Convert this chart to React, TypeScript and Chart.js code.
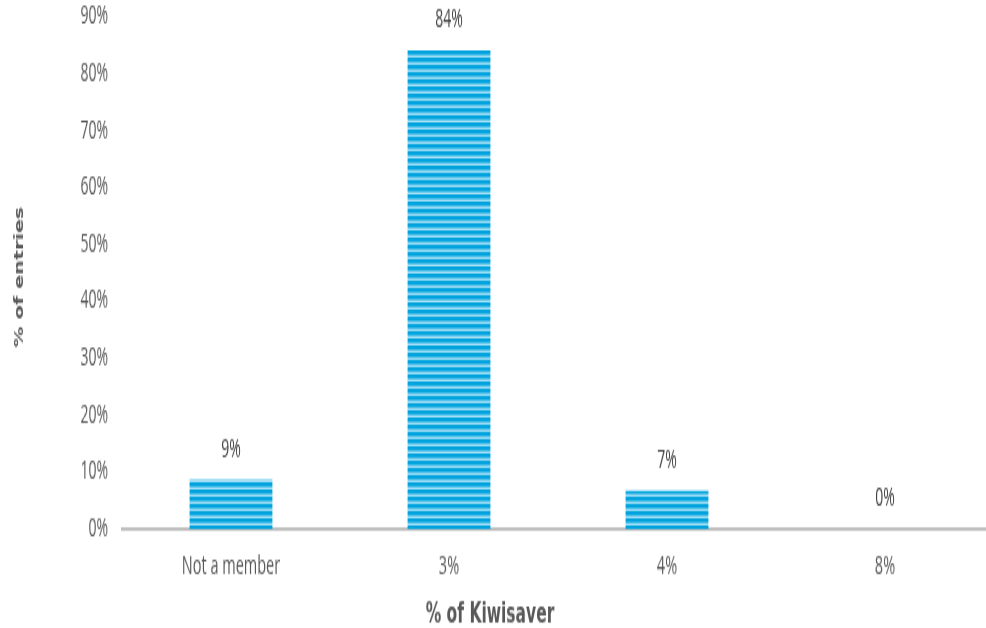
import React, { useEffect, useRef } from "react";
import { Chart, registerables } from "chart.js";

Chart.register(...registerables);

const categories = ["Not a member", "3%", "4%", "8%"];
const shareOfEntries = [8.7, 84.1, 6.7, 0];
const yTickMax = 90;
const yTickStep = 10;
const xTitle = "% of Kiwisaver";
const yTitle = "% of entries";

// The reference is vertically stretched; we render at a lower internal height and scale up.
const W = 994;
const H = 349;
const S = 628 / H;

function makeStripePattern(ctx: CanvasRenderingContext2D) {
  const c = document.createElement("canvas");
  c.width = 4;
  c.height = 4;
  const p = c.getContext("2d")!;
  const rows = ["#00A3DD", "#00A3DD", "#4FC0E9", "#A8E1F6"];
  rows.forEach((col, i) => {
    p.fillStyle = col;
    p.fillRect(0, i, 4, 1);
  });
  return ctx.createPattern(c, "repeat")!;
}

const valueLabels = {
  id: "valueLabels",
  afterDatasetsDraw(chart: any) {
    const { ctx } = chart;
    const meta = chart.getDatasetMeta(0);
    ctx.save();
    ctx.font = "14px 'Open Sans'";
    ctx.fillStyle = "#404040";
    ctx.textAlign = "center";
    ctx.textBaseline = "middle";
    meta.data.forEach((el: any, i: number) => {
      const v = chart.data.datasets[0].data[i];
      ctx.fillText(Math.round(v) + "%", el.x, el.y - 16.7);
    });
    // axis titles, placed as in the reference
    ctx.fillStyle = "#595959";
    ctx.font = "bold 15.5px 'DejaVu Sans'";
    ctx.fillText(xTitle, 490, 341.8);
    ctx.translate(20, 277 / S);
    ctx.rotate(-Math.PI / 2);
    ctx.font = "bold 11.5px 'DejaVu Sans'";
    ctx.fillText(yTitle, 0, 0);
    ctx.restore();
  },
};

export default function App() {
  const ref = useRef<HTMLCanvasElement>(null);
  useEffect(() => {
    const canvas = ref.current!;
    const ctx = canvas.getContext("2d")!;
    const pattern = makeStripePattern(ctx);
    const chart = new Chart(canvas, {
      type: "bar",
      data: {
        labels: categories,
        datasets: [
          {
            data: shareOfEntries,
            backgroundColor: pattern as any,
            borderWidth: 0,
            barPercentage: 0.38,
            categoryPercentage: 1,
          },
        ],
      },
      options: {
        animation: false,
        responsive: false,
        devicePixelRatio: 1,
        layout: { padding: { left: 0, right: 0, top: 9.4, bottom: 0 } },
        plugins: { legend: { display: false }, tooltip: { enabled: false } },
        scales: {
          x: {
            grid: { display: false, drawTicks: false },
            border: { display: true, color: "#BFBFBF", width: 2 },
            ticks: {
              color: "#595959",
              font: { family: "'Open Sans'", size: 14.5 },
              padding: 12.1,
            },
            afterFit(scale: any) {
              scale.height = H - 293.9;
            },
          },
          y: {
            min: 0,
            max: yTickMax,
            grid: { display: false, drawTicks: false },
            border: { display: false },
            ticks: {
              stepSize: yTickStep,
              color: "#595959",
              font: { family: "'Open Sans'", size: 14 },
              padding: 14,
              callback: (v: any) => v + "%",
            },
            afterFit(scale: any) {
              scale.width = 122;
              scale.paddingTop = 0;
              scale.paddingBottom = 0;
            },
          },
        },
      },
      plugins: [valueLabels],
    });
    return () => chart.destroy();
  }, []);

  return (
    <div
      style={{
        position: "fixed",
        left: 0,
        top: 0,
        width: 986,
        height: 628,
        overflow: "hidden",
        background: "#fff",
      }}
    >
      <div
        style={{
          width: W,
          height: H,
          transform: `scaleY(${S})`,
          transformOrigin: "0 0",
        }}
      >
        <canvas
          ref={ref}
          width={W}
          height={H}
          style={{ display: "block", width: W, height: H }}
        />
      </div>
    </div>
  );
}
